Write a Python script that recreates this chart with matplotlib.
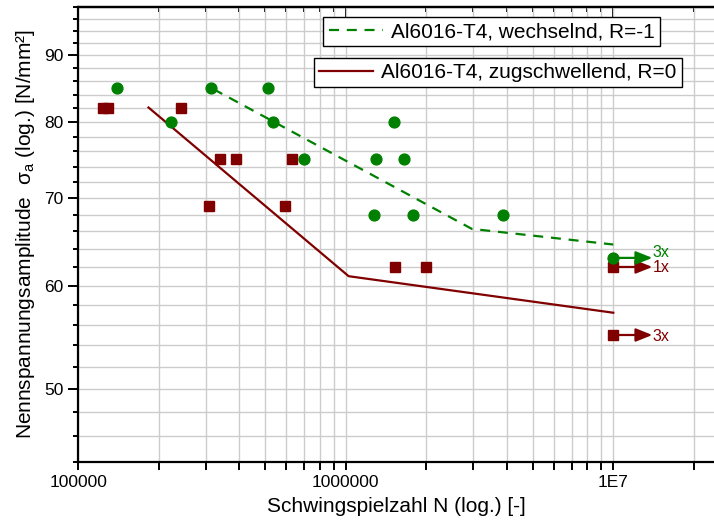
import numpy as np
import matplotlib
matplotlib.use("Agg")
import matplotlib.pyplot as plt
from matplotlib.ticker import FixedLocator, FixedFormatter, NullFormatter, LogLocator

plt.rcParams['font.family'] = ['Liberation Sans', 'DejaVu Sans']
plt.rcParams['mathtext.fontset'] = 'custom'
plt.rcParams['mathtext.rm'] = 'Liberation Sans'

GREEN = '#008000'
RED = '#800000'

# Versuchsergebnisse wechselnd, R=-1 (Kreise)
n_wechsel = [1.40e5, 2.22e5, 3.14e5, 5.12e5, 5.34e5, 6.95e5, 1.30e6, 1.65e6,
             1.52e6, 1.27e6, 1.79e6, 3.87e6]
s_wechsel = [85, 80, 85, 85, 80, 75, 75, 75, 80, 68, 68, 68]

# Versuchsergebnisse zugschwellend, R=0 (Quadrate)
n_zug = [1.24e5, 1.29e5, 2.43e5, 3.38e5, 3.90e5, 3.09e5, 5.94e5, 6.31e5,
         1.53e6, 2.0e6]
s_zug = [82, 82, 82, 75, 75, 69, 69, 75, 62, 62]

# Durchlaeufer bei 1E7
n_grenze = 1e7
n_pfeil = 1.4e7
s_dl_wechsel = [63]
dl_wechsel_txt = ['3x']
s_dl_zug = [62, 55]
dl_zug_txt = ['1x', '3x']

# Woehlerlinien
wl_wechsel_n = [3.2e5, 2.96e6, 1e7]
wl_wechsel_s = [84.8, 66.3, 64.5]
wl_zug_n = [1.83e5, 1.025e6, 1e7]
wl_zug_s = [82.1, 61.0, 57.2]

fig = plt.figure(figsize=(7.14, 5.22), dpi=100)
ax = fig.add_axes([0.1097, 0.1155, 0.8903, 0.8711])
ax.set_xscale('log')
ax.set_yscale('log')
ax.set_xlim(1e5, 2.38e7)
ax.set_ylim(44, 98)

# Gitter und Achsen
yticks_major = [50, 60, 70, 80, 90]
yticks_minor = [v for v in range(44, 99, 2) if v not in yticks_major]
ax.yaxis.set_major_locator(FixedLocator(yticks_major))
ax.yaxis.set_major_formatter(FixedFormatter([str(v) for v in yticks_major]))
ax.yaxis.set_minor_locator(FixedLocator(yticks_minor))
ax.yaxis.set_minor_formatter(NullFormatter())
xticks_major = [1e5, 1e6, 1e7]
ax.xaxis.set_major_locator(FixedLocator(xticks_major))
ax.xaxis.set_major_formatter(FixedFormatter(['100000', '1000000', '1E7']))
ax.xaxis.set_minor_locator(LogLocator(base=10, subs=np.arange(2, 10)))
ax.xaxis.set_minor_formatter(NullFormatter())

ax.grid(True, which='both', color='#cccccc', linewidth=1.0, zorder=0)
ax.set_axisbelow(True)

for side in ['left', 'bottom', 'top']:
    ax.spines[side].set_linewidth(1.6)
ax.spines['right'].set_visible(False)
ax.tick_params(axis='both', which='both', labelsize=12.5, width=1.4)
ax.tick_params(axis='y', which='major', length=7, direction='out')
ax.tick_params(axis='y', which='minor', length=3.8, direction='out')
ax.tick_params(axis='x', which='both', length=6, direction='out')

top = ax.secondary_xaxis('top')
top.xaxis.set_major_locator(FixedLocator(xticks_major))
top.xaxis.set_minor_locator(LogLocator(base=10, subs=np.arange(2, 10)))
top.xaxis.set_major_formatter(NullFormatter())
top.xaxis.set_minor_formatter(NullFormatter())
top.tick_params(which='major', direction='in', length=7, width=1.4)
top.tick_params(which='minor', direction='in', length=3.5, width=1.4)
top.spines['top'].set_linewidth(1.6)

# Woehlerlinien
l_w, = ax.plot(wl_wechsel_n, wl_wechsel_s, color=GREEN, lw=1.6, ls=(0, (4.5, 3.5)), zorder=3)
l_z, = ax.plot(wl_zug_n, wl_zug_s, color=RED, lw=1.6, zorder=3)

# Messpunkte
ax.plot(n_wechsel, s_wechsel, 'o', color=GREEN, ms=7.8, ls='none', zorder=4)
ax.plot(n_zug, s_zug, 's', color=RED, ms=7.2, ls='none', zorder=4)

# Durchlaeufer mit Pfeilen
arrow_style = '-|>,head_length=1.0,head_width=0.4'
for s, txt in zip(s_dl_zug, dl_zug_txt):
    ax.plot([n_grenze], [s], 's', color=RED, ms=7.2, zorder=5)
    ax.annotate('', xy=(n_pfeil, s), xytext=(n_grenze, s),
                arrowprops=dict(arrowstyle=arrow_style, color=RED, lw=1.6,
                                shrinkA=0, shrinkB=0), zorder=5)
    ax.text(n_pfeil * 1.005, s - 0.1, txt, color=RED, fontsize=11.5, va='center', ha='left')
for s, txt in zip(s_dl_wechsel, dl_wechsel_txt):
    ax.plot([n_grenze], [s], 'o', color=GREEN, ms=7.8, zorder=6)
    ax.annotate('', xy=(n_pfeil, s), xytext=(n_grenze, s),
                arrowprops=dict(arrowstyle=arrow_style, color=GREEN, lw=1.6,
                                shrinkA=0, shrinkB=0), zorder=6)
    ax.text(n_pfeil * 1.005, s + 0.6, txt, color=GREEN, fontsize=11.5, va='center', ha='left')

ax.set_xlabel('Schwingspielzahl N (log.) [-]', fontsize=15, labelpad=5)
ax.set_ylabel('Nennspannungsamplitude  σ$_\\mathrm{a}$ (log.) [N/mm²]', fontsize=15, labelpad=5)

# zwei getrennte Legendenkaesten
leg1 = ax.legend([l_w], ['Al6016-T4, wechselnd, R=-1'], loc='upper right',
                 bbox_to_anchor=(660 / 714, 1 - 17 / 522), bbox_transform=fig.transFigure,
                 borderaxespad=0, fancybox=False, framealpha=1, edgecolor='black',
                 fontsize=15, handlelength=2.6, borderpad=0.25, handletextpad=0.4)
leg1.get_frame().set_linewidth(1.0)
ax.add_artist(leg1)
leg2 = ax.legend([l_z], ['Al6016-T4, zugschwellend, R=0'], loc='upper right',
                 bbox_to_anchor=(682 / 714, 1 - 58 / 522), bbox_transform=fig.transFigure,
                 borderaxespad=0, fancybox=False, framealpha=1, edgecolor='black',
                 fontsize=15, handlelength=2.6, borderpad=0.25, handletextpad=0.4)
leg2.get_frame().set_linewidth(1.0)

fig.savefig('out.png', dpi=100)
